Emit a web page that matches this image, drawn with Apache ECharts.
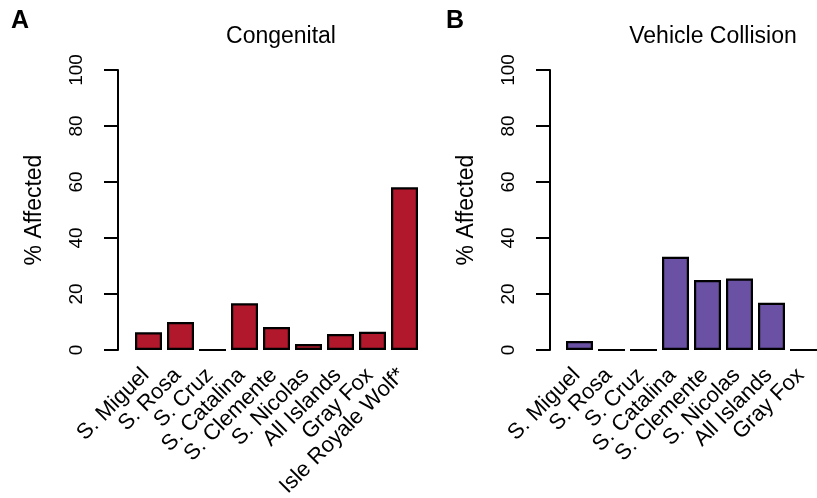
<!DOCTYPE html>
<html>
<head>
<meta charset="utf-8">
<style>
  html, body { margin: 0; padding: 0; background: #fff; }
  #chart { width: 817px; height: 498px; }
</style>
<script src="https://cdn.jsdelivr.net/npm/echarts@6/dist/echarts.min.js"></script>
</head>
<body>
<div id="chart"></div>
<script>
// Percent of animals affected, by population
const congenitalCategories = ['S. Miguel', 'S. Rosa', 'S. Cruz', 'S. Catalina', 'S. Clemente', 'S. Nicolas', 'All Islands', 'Gray Fox', 'Isle Royale Wolf*'];
const congenitalValues = [6.3, 10.0, 0, 16.7, 8.2, 2.1, 5.7, 6.5, 58.1];

const collisionCategories = ['S. Miguel', 'S. Rosa', 'S. Cruz', 'S. Catalina', 'S. Clemente', 'S. Nicolas', 'All Islands', 'Gray Fox'];
const collisionValues = [3.2, 0, 0, 33.3, 25.0, 25.5, 16.9, 0];

const yTicks = [0, 20, 40, 60, 80, 100];

const FONT = '"Liberation Sans", Arial, Helvetica, sans-serif';
const INK = '#000';

function yAxisFor(gridIndex, offset) {
  return {
    gridIndex: gridIndex,
    type: 'value',
    min: yTicks[0],
    max: yTicks[yTicks.length - 1],
    interval: yTicks[1] - yTicks[0],
    offset: offset,
    name: '% Affected',
    nameLocation: 'middle',
    nameRotate: 90,
    nameGap: 72,
    nameTextStyle: { fontFamily: FONT, fontSize: 23, color: INK },
    splitLine: { show: false },
    axisLine: { show: true, lineStyle: { color: INK, width: 2 } },
    axisTick: { show: true, length: 14, lineStyle: { color: INK, width: 2 } },
    axisLabel: { rotate: 90, margin: 32, fontFamily: FONT, fontSize: 19, color: INK }
  };
}

function xAxisFor(gridIndex, cats) {
  return {
    gridIndex: gridIndex,
    type: 'category',
    data: cats,
    axisLine: { show: false },
    axisTick: { show: false },
    axisLabel: { interval: 0, rotate: 45, margin: 19, padding: [0, 4, 0, 0], fontFamily: FONT, fontSize: 22, color: INK }
  };
}

function barSeries(idx, values, color) {
  return {
    type: 'bar',
    xAxisIndex: idx,
    yAxisIndex: idx,
    data: values,
    barWidth: 27,
    itemStyle: { color: color, borderColor: INK, borderWidth: 2.2 },
    silent: true,
    animation: false
  };
}

const chart = echarts.init(document.getElementById('chart'), null, { renderer: 'canvas' });
chart.setOption({
  backgroundColor: '#fff',
  animation: false,
  title: [
    { text: 'A', left: 6, top: 4, textStyle: { fontFamily: FONT, fontSize: 25, fontWeight: 'bold', color: INK } },
    { text: 'B', left: 441, top: 4, textStyle: { fontFamily: FONT, fontSize: 25, fontWeight: 'bold', color: INK } },
    { text: 'Congenital', left: 276, top: 20, textAlign: 'center', textStyle: { fontFamily: FONT, fontSize: 23, fontWeight: 'normal', color: INK } },
    { text: 'Vehicle Collision', left: 708, top: 20, textAlign: 'center', textStyle: { fontFamily: FONT, fontSize: 23, fontWeight: 'normal', color: INK } }
  ],
  grid: [
    { left: 132.5, top: 70, width: 288, height: 280, containLabel: false, outerBoundsMode: 'none' },
    { left: 563.5, top: 70, width: 256, height: 280, containLabel: false, outerBoundsMode: 'none' }
  ],
  xAxis: [xAxisFor(0, congenitalCategories), xAxisFor(1, collisionCategories)],
  yAxis: [yAxisFor(0, 14.5), yAxisFor(1, 13.5)],
  series: [
    barSeries(0, congenitalValues, '#B2182B'),
    barSeries(1, collisionValues, '#6A51A3')
  ]
});
</script>
</body>
</html>
